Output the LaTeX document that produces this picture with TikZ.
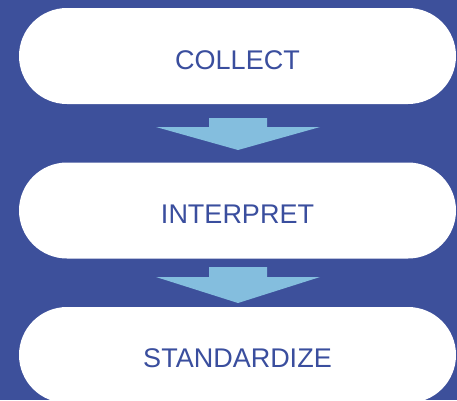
\documentclass[tikz,border=0pt]{standalone}
\usepackage{fontspec}
\setmainfont{Liberation Sans}
\definecolor{bgblue}{RGB}{61,80,155}
\definecolor{txtblue}{RGB}{58,78,158}
\definecolor{arrblue}{RGB}{132,190,222}
\begin{document}
\begin{tikzpicture}[x=1pt,y=-1pt,
  stage/.style={fill=white,draw=none,rounded corners=48pt,minimum width=437pt,minimum height=96pt,inner sep=0pt},
  lbl/.style={text=txtblue,font=\fontsize{27}{32}\selectfont,inner sep=0pt},
  flow/.style={fill=arrblue,draw=none}]
\fill[bgblue] (0,0) rectangle (457,400);
\useasboundingbox (0,0) rectangle (457,400);
\begin{scope}
\clip (0,0) rectangle (457,400);
\node[stage] (b1) at (237.5,56) {};
\node[stage] (b2) at (237.5,210.5) {};
\node[stage] (b3) at (237.5,355) {};
\node[lbl] (t1) at (237.5,60) {COLLECT};
\node[lbl] (t2) at (237.5,214.5) {INTERPRET};
\node[lbl] (t3) at (237.5,358.5) {STANDARDIZE};
\fill[flow] (209,118) -- (267,118) -- (267,127) -- (320,127) -- (238,150) -- (156,127) -- (209,127) -- cycle;
\fill[flow] (209,267) -- (267,267) -- (267,277) -- (320,277) -- (238,303) -- (156,277) -- (209,277) -- cycle;
\end{scope}
\end{tikzpicture}
\end{document}
